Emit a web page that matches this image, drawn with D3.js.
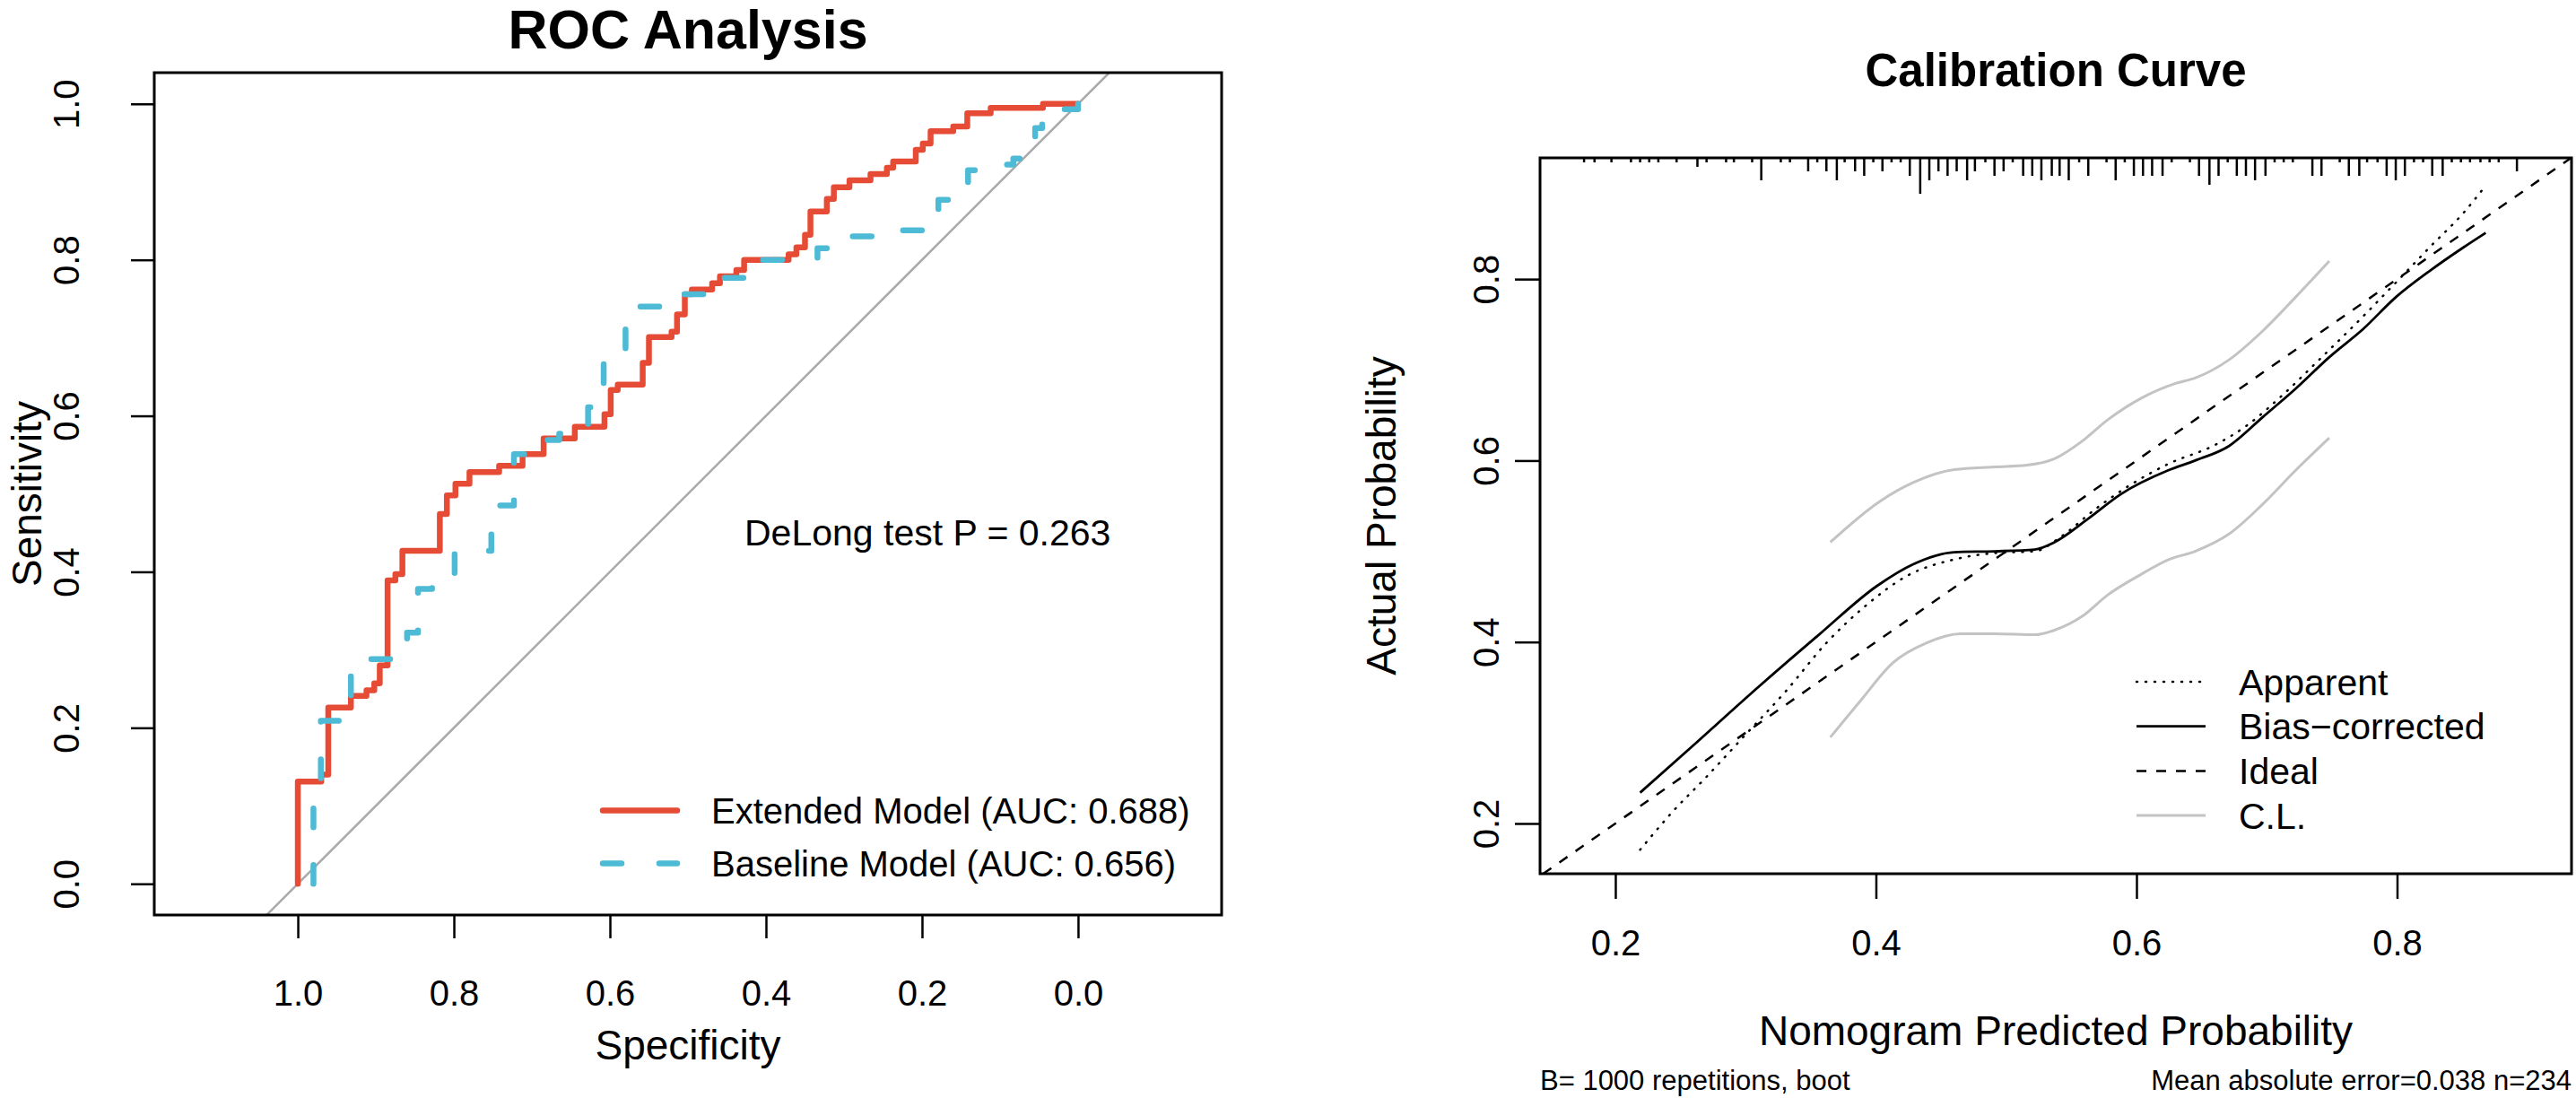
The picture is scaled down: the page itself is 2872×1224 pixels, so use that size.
<!DOCTYPE html>
<html>
<head>
<meta charset="utf-8">
<script src="https://cdn.jsdelivr.net/npm/d3@7"></script>
<style>
  body { margin: 0; background: #fff; }
  text { font-family: "Liberation Sans", Arial, Helvetica, sans-serif; fill: #000; }
</style>
</head>
<body>
<div id="chart"></div>
<script>
const width = 2872
const height = 1224

// ROC curves, ordered from specificity 0 to 1 the way pROC stores them
const extendedSpec = [0.000, 0.045, 0.112, 0.142, 0.160, 0.189, 0.199, 0.208, 0.237, 0.245, 0.266, 0.293, 0.313, 0.322, 0.343, 0.350, 0.361, 0.371, 0.428, 0.438, 0.459, 0.469, 0.495, 0.504, 0.514, 0.521, 0.550, 0.558, 0.590, 0.599, 0.607, 0.645, 0.685, 0.712, 0.742, 0.780, 0.798, 0.809, 0.818, 0.866, 0.875, 0.885, 0.895, 0.902, 0.912, 0.932, 0.961, 0.970, 1.000, 1.000]
const extendedSens = [1.000, 1.000, 0.995, 0.988, 0.971, 0.965, 0.949, 0.941, 0.926, 0.918, 0.910, 0.902, 0.893, 0.878, 0.862, 0.832, 0.816, 0.807, 0.800, 0.787, 0.779, 0.770, 0.762, 0.756, 0.730, 0.708, 0.701, 0.668, 0.640, 0.633, 0.602, 0.586, 0.571, 0.551, 0.536, 0.528, 0.513, 0.498, 0.474, 0.427, 0.397, 0.389, 0.280, 0.257, 0.248, 0.241, 0.226, 0.140, 0.131, 0.000]
const baselineSpec = [0.000, 0.046, 0.055, 0.083, 0.100, 0.141, 0.179, 0.197, 0.235, 0.300, 0.334, 0.410, 0.427, 0.455, 0.473, 0.505, 0.580, 0.608, 0.618, 0.628, 0.665, 0.680, 0.723, 0.752, 0.799, 0.823, 0.828, 0.846, 0.860, 0.932, 0.9705, 0.980, 1.000]
const baselineSens = [1.000, 0.993, 0.969, 0.930, 0.922, 0.915, 0.877, 0.844, 0.838, 0.830, 0.815, 0.800, 0.786, 0.777, 0.763, 0.756, 0.740, 0.670, 0.619, 0.611, 0.577, 0.569, 0.551, 0.485, 0.427, 0.390, 0.384, 0.378, 0.322, 0.288, 0.209, 0.109, 0.000]
const rocTicks = [1.0, 0.8, 0.6, 0.4, 0.2, 0.0]
const rocLegend = ["Extended Model (AUC: 0.688)", "Baseline Model (AUC: 0.656)"]
const rocColors = ["#E64B35", "#4DBBD5"]
const delongText = "DeLong test P = 0.263"

// calibration curves
const apparentX = [0.219, 0.244, 0.269, 0.300, 0.331, 0.362, 0.393, 0.424, 0.460, 0.491, 0.522, 0.542, 0.568, 0.594, 0.624, 0.660, 0.686, 0.712, 0.738, 0.774, 0.799, 0.825, 0.851, 0.868]
const apparentY = [0.171, 0.213, 0.250, 0.298, 0.346, 0.399, 0.441, 0.473, 0.491, 0.498, 0.500, 0.516, 0.546, 0.572, 0.596, 0.617, 0.640, 0.672, 0.708, 0.759, 0.796, 0.835, 0.873, 0.903]
const biasX = [0.219, 0.259, 0.311, 0.357, 0.401, 0.429, 0.460, 0.491, 0.522, 0.537, 0.563, 0.588, 0.624, 0.645, 0.671, 0.697, 0.722, 0.748, 0.774, 0.799, 0.825, 0.851, 0.868]
const biasY = [0.234, 0.285, 0.352, 0.409, 0.462, 0.486, 0.499, 0.500, 0.502, 0.510, 0.536, 0.563, 0.589, 0.600, 0.616, 0.648, 0.679, 0.714, 0.745, 0.780, 0.809, 0.835, 0.851]
const clUpperX = [0.365, 0.403, 0.429, 0.460, 0.491, 0.516, 0.537, 0.558, 0.578, 0.604, 0.630, 0.645, 0.671, 0.697, 0.722, 0.748]
const clUpperY = [0.510, 0.555, 0.576, 0.590, 0.593, 0.595, 0.602, 0.621, 0.645, 0.669, 0.685, 0.691, 0.711, 0.743, 0.780, 0.820]
const clLowerX = [0.365, 0.388, 0.413, 0.439, 0.465, 0.491, 0.522, 0.537, 0.558, 0.578, 0.604, 0.625, 0.645, 0.671, 0.697, 0.722, 0.748]
const clLowerY = [0.295, 0.335, 0.377, 0.399, 0.409, 0.409, 0.408, 0.413, 0.428, 0.452, 0.475, 0.491, 0.500, 0.519, 0.552, 0.589, 0.625]

// rug of predicted probabilities (value, count)
const rugValues = [0.176, 0.184, 0.197, 0.212, 0.219, 0.226, 0.233, 0.247, 0.263, 0.270, 0.285, 0.291, 0.305, 0.312, 0.327, 0.334, 0.348, 0.355, 0.362, 0.370, 0.376, 0.384, 0.391, 0.398, 0.405, 0.412, 0.419, 0.426, 0.434, 0.441, 0.448, 0.455, 0.462, 0.470, 0.476, 0.484, 0.491, 0.498, 0.505, 0.513, 0.520, 0.527, 0.535, 0.541, 0.548, 0.556, 0.563, 0.577, 0.584, 0.591, 0.598, 0.605, 0.612, 0.620, 0.627, 0.641, 0.648, 0.656, 0.663, 0.670, 0.677, 0.684, 0.691, 0.699, 0.706, 0.713, 0.720, 0.735, 0.742, 0.756, 0.763, 0.771, 0.777, 0.785, 0.792, 0.799, 0.806, 0.813, 0.820, 0.827, 0.835, 0.842, 0.849, 0.856, 0.864, 0.871, 0.878, 0.892]
const rugCounts = [1, 1, 1, 1, 1, 1, 1, 1, 2, 1, 1, 1, 1, 5, 1, 1, 3, 1, 3, 5, 1, 3, 4, 1, 3, 1, 1, 4, 8, 5, 3, 4, 3, 5, 3, 1, 4, 3, 1, 4, 4, 5, 4, 4, 5, 1, 4, 1, 5, 1, 4, 4, 4, 4, 1, 1, 4, 6, 4, 1, 4, 4, 5, 4, 1, 1, 1, 4, 4, 1, 4, 4, 1, 1, 4, 5, 4, 1, 1, 4, 4, 1, 1, 1, 1, 1, 1, 3]
const calTicks = [0.2, 0.4, 0.6, 0.8]
const calLegend = ["Apparent", "Bias\u2212corrected", "Ideal", "C.L."]
const calFooterLeft = "B= 1000 repetitions, boot"
const calFooterRight = "Mean absolute error=0.038 n=234"

const svg = d3.select("#chart")
  .append("svg")
  .attr("width", width)
  .attr("height", height)
  .attr("viewBox", [0, 0, width, height])

svg.append("rect").attr("width", width).attr("height", height).attr("fill", "white")

const defs = svg.append("defs")

// ---------- ROC panel ----------
const roc = {left: 172, right: 1362, top: 81, bottom: 1020}
const rocX = d3.scaleLinear().domain([1.184, -0.184]).range([roc.left, roc.right])
const rocY = d3.scaleLinear().domain([-0.04, 1.04]).range([roc.bottom, roc.top])

defs.append("clipPath").attr("id", "roc-clip")
  .append("rect")
  .attr("x", roc.left).attr("y", roc.top)
  .attr("width", roc.right - roc.left).attr("height", roc.bottom - roc.top)

const rocPlot = svg.append("g").attr("clip-path", "url(#roc-clip)")

rocPlot.append("line")
  .attr("x1", rocX(1.04)).attr("y1", rocY(-0.04))
  .attr("x2", rocX(-0.04)).attr("y2", rocY(1.04))
  .attr("stroke", "#aaaaaa")
  .attr("stroke-width", 2.5)

const rocLine = d3.line()
  .x(d => rocX(d[0]))
  .y(d => rocY(d[1]))
  .curve(d3.curveStepBefore)

rocPlot.append("path")
  .datum(d3.zip(extendedSpec, extendedSens))
  .attr("d", rocLine)
  .attr("fill", "none")
  .attr("stroke", rocColors[0])
  .attr("stroke-width", 6.5)
  .attr("stroke-linecap", "round")
  .attr("stroke-linejoin", "round")

rocPlot.append("path")
  .datum(d3.zip(baselineSpec, baselineSens))
  .attr("d", rocLine)
  .attr("fill", "none")
  .attr("stroke", rocColors[1])
  .attr("stroke-width", 6.5)
  .attr("stroke-dasharray", "21,42")
  .attr("stroke-linecap", "round")
  .attr("stroke-linejoin", "round")

svg.append("rect")
  .attr("x", roc.left).attr("y", roc.top)
  .attr("width", roc.right - roc.left).attr("height", roc.bottom - roc.top)
  .attr("fill", "none").attr("stroke", "black").attr("stroke-width", 3)

const rocXAxis = svg.append("g")
  .attr("transform", `translate(0,${roc.bottom})`)
  .call(d3.axisBottom(rocX).tickValues(rocTicks).tickSize(26).tickPadding(47).tickFormat(d3.format(".1f")))
rocXAxis.select(".domain").remove()
rocXAxis.selectAll("line").attr("stroke", "black").attr("stroke-width", 2.5)
rocXAxis.selectAll("text").attr("font-size", 40).attr("font-family", null)

const rocYAxis = svg.append("g")
  .attr("transform", `translate(${roc.left},0)`)
  .call(d3.axisLeft(rocY).tickValues(rocTicks).tickSize(26).tickFormat(d3.format(".1f")))
rocYAxis.select(".domain").remove()
rocYAxis.selectAll("line").attr("stroke", "black").attr("stroke-width", 2.5)
rocYAxis.selectAll("text")
  .attr("x", null).attr("dy", null)
  .attr("text-anchor", "middle")
  .attr("transform", "translate(-84,0) rotate(-90)")
  .attr("font-size", 40).attr("font-family", null)

svg.append("text")
  .attr("x", (roc.left + roc.right) / 2).attr("y", 54)
  .attr("text-anchor", "middle")
  .attr("font-size", 61).attr("font-weight", "bold")
  .text("ROC Analysis")

svg.append("text")
  .attr("x", (roc.left + roc.right) / 2).attr("y", 1181)
  .attr("text-anchor", "middle")
  .attr("font-size", 46)
  .text("Specificity")

svg.append("text")
  .attr("transform", `translate(46,${(roc.top + roc.bottom) / 2}) rotate(-90)`)
  .attr("text-anchor", "middle")
  .attr("font-size", 46)
  .text("Sensitivity")

svg.append("text")
  .attr("x", 830).attr("y", 608)
  .attr("font-size", 41)
  .text(delongText)

const rocLegendRow = svg.append("g")
  .selectAll("g")
  .data(rocLegend)
  .join("g")
    .attr("transform", (d, i) => `translate(672,${903.6 + i * 58.9})`)

rocLegendRow.append("line")
  .attr("x1", 0).attr("x2", 83)
  .attr("stroke", (d, i) => rocColors[i])
  .attr("stroke-width", 6.5)
  .attr("stroke-linecap", "round")
  .attr("stroke-dasharray", (d, i) => i === 1 ? "21,42" : null)

rocLegendRow.append("text")
  .attr("x", 121).attr("y", 14.5)
  .attr("font-size", 40)
  .text(d => d)

// ---------- Calibration panel ----------
const cal = {left: 1717, right: 2867, top: 176, bottom: 974}
const calX = d3.scaleLinear().domain([0.1422, 0.9339]).range([cal.left, cal.right])
const calY = d3.scaleLinear().domain([0.1446, 0.9336]).range([cal.bottom, cal.top])

defs.append("clipPath").attr("id", "cal-clip")
  .append("rect")
  .attr("x", cal.left).attr("y", cal.top)
  .attr("width", cal.right - cal.left).attr("height", cal.bottom - cal.top)

const calPlot = svg.append("g").attr("clip-path", "url(#cal-clip)")

const calLine = d3.line()
  .x(d => calX(d[0]))
  .y(d => calY(d[1]))
  .curve(d3.curveMonotoneX)

const calStyles = [
  {color: "black", width: 2.5, dash: "1,9"},
  {color: "black", width: 2.8, dash: null},
  {color: "black", width: 2.5, dash: "11,11"},
  {color: "#c3c3c3", width: 3, dash: null}
]

calPlot.selectAll(".cl")
  .data([d3.zip(clUpperX, clUpperY), d3.zip(clLowerX, clLowerY)])
  .join("path")
    .attr("class", "cl")
    .attr("d", calLine)
    .attr("fill", "none")
    .attr("stroke", calStyles[3].color)
    .attr("stroke-width", calStyles[3].width)

calPlot.append("line")
  .attr("x1", calX(0.1446)).attr("y1", calY(0.1446))
  .attr("x2", calX(0.9336)).attr("y2", calY(0.9336))
  .attr("stroke", "black")
  .attr("stroke-width", calStyles[2].width)
  .attr("stroke-dasharray", calStyles[2].dash)

calPlot.append("path")
  .datum(d3.zip(apparentX, apparentY))
  .attr("d", calLine)
  .attr("fill", "none")
  .attr("stroke", "black")
  .attr("stroke-width", calStyles[0].width)
  .attr("stroke-dasharray", calStyles[0].dash)
  .attr("stroke-linecap", "round")

calPlot.append("path")
  .datum(d3.zip(biasX, biasY))
  .attr("d", calLine)
  .attr("fill", "none")
  .attr("stroke", "black")
  .attr("stroke-width", calStyles[1].width)

svg.append("g")
  .selectAll("line")
  .data(d3.zip(rugValues, rugCounts))
  .join("line")
    .attr("x1", d => calX(d[0])).attr("x2", d => calX(d[0]))
    .attr("y1", cal.top).attr("y2", d => cal.top + d[1] * 5)
    .attr("stroke", "black")
    .attr("stroke-width", 2.5)

svg.append("rect")
  .attr("x", cal.left).attr("y", cal.top)
  .attr("width", cal.right - cal.left).attr("height", cal.bottom - cal.top)
  .attr("fill", "none").attr("stroke", "black").attr("stroke-width", 3)

const calXAxis = svg.append("g")
  .attr("transform", `translate(0,${cal.bottom})`)
  .call(d3.axisBottom(calX).tickValues(calTicks).tickSize(28).tickPadding(35).tickFormat(d3.format(".1f")))
calXAxis.select(".domain").remove()
calXAxis.selectAll("line").attr("stroke", "black").attr("stroke-width", 2.5)
calXAxis.selectAll("text").attr("font-size", 40).attr("font-family", null)

const calYAxis = svg.append("g")
  .attr("transform", `translate(${cal.left},0)`)
  .call(d3.axisLeft(calY).tickValues(calTicks).tickSize(28).tickFormat(d3.format(".1f")))
calYAxis.select(".domain").remove()
calYAxis.selectAll("line").attr("stroke", "black").attr("stroke-width", 2.5)
calYAxis.selectAll("text")
  .attr("x", null).attr("dy", null)
  .attr("text-anchor", "middle")
  .attr("transform", "translate(-46,0) rotate(-90)")
  .attr("font-size", 40).attr("font-family", null)

svg.append("text")
  .attr("x", (cal.left + cal.right) / 2).attr("y", 96)
  .attr("text-anchor", "middle")
  .attr("font-size", 51).attr("font-weight", "bold")
  .text("Calibration Curve")

svg.append("text")
  .attr("x", (cal.left + cal.right) / 2).attr("y", 1165)
  .attr("text-anchor", "middle")
  .attr("font-size", 46)
  .text("Nomogram Predicted Probability")

svg.append("text")
  .attr("transform", `translate(1556,${(cal.top + cal.bottom) / 2}) rotate(-90)`)
  .attr("text-anchor", "middle")
  .attr("font-size", 46)
  .text("Actual Probability")

svg.append("text")
  .attr("x", cal.left).attr("y", 1215)
  .attr("font-size", 31)
  .text(calFooterLeft)

svg.append("text")
  .attr("x", cal.right).attr("y", 1215)
  .attr("text-anchor", "end")
  .attr("font-size", 31)
  .text(calFooterRight)

const calLegendRow = svg.append("g")
  .selectAll("g")
  .data(calLegend)
  .join("g")
    .attr("transform", (d, i) => `translate(2382,${760 + i * 49.7})`)

calLegendRow.append("line")
  .attr("x1", 0).attr("x2", 77)
  .attr("stroke", (d, i) => calStyles[i].color)
  .attr("stroke-width", (d, i) => calStyles[i].width)
  .attr("stroke-dasharray", (d, i) => calStyles[i].dash)
  .attr("stroke-linecap", (d, i) => i === 0 ? "round" : "butt")

calLegendRow.append("text")
  .attr("x", 114).attr("y", 14.5)
  .attr("font-size", 41)
  .text(d => d)
</script>
</body>
</html>
